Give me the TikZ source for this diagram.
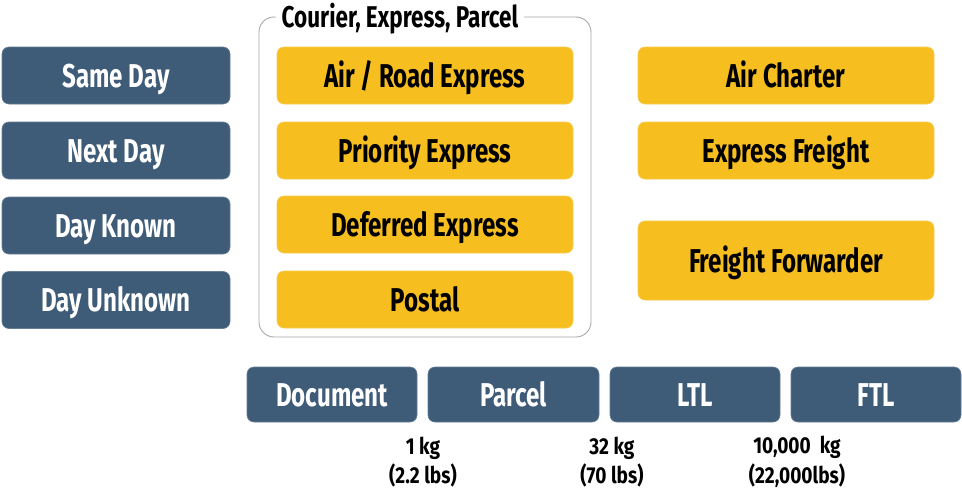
\documentclass[tikz,border=0pt]{standalone}
\usepackage{fontspec}
\newfontfamily\cond[FakeStretch=0.73]{Fira Sans}
\newfontfamily\condt[FakeStretch=0.75]{Fira Sans}
\newfontfamily\condn[FakeStretch=0.83]{Fira Sans}
\definecolor{navy}{HTML}{3E5B78}
\definecolor{gold}{HTML}{F6BF1F}
\definecolor{frame}{HTML}{A8A8A8}
\begin{document}
\begin{tikzpicture}[x=1pt,y=-1pt,
  base/.style={rectangle, rounded corners=7pt, draw=#1!80!white, line width=0.6pt, fill=#1,
    inner sep=0pt, text height=23pt, text depth=0pt,
    font=\cond\bfseries\fontsize{33}{36}\selectfont},
  bluebox/.style={base=navy, text=white},
  goldbox/.style={base=gold, text=black},
  note/.style={font=\condn\bfseries\fontsize{23}{29.5}\selectfont, text=black, align=center}]
\useasboundingbox[fill=white] (0,0) rectangle (962,490);
% group frame
\draw[frame, line width=0.9pt, rounded corners=15pt] (259,17) rectangle (591,337);
\node[fill=white, inner xsep=6pt, inner ysep=2pt, text height=21pt, text depth=0pt,
  font=\condt\bfseries\fontsize{30}{32}\selectfont] (grp) at (400,16.5) {Courier, Express, Parcel};
% left
\begin{scope}[every node/.append style={bluebox, minimum width=228pt, minimum height=57pt}]
\node (sd) at (116,75.5) {Same Day};
\node (nd) at (116,150.5) {Next Day};
\node (dk) at (116,225.5) {Day Known};
\node (du) at (116,300) {Day Unknown};
\end{scope}
% middle
\begin{scope}[every node/.append style={goldbox, minimum width=296pt, minimum height=57pt}]
\node (are) at (425,75.5) {Air / Road Express};
\node (pe) at (425,150.5) {Priority Express};
\node (de) at (425,224.5) {Deferred Express};
\node (po) at (425,299.5) {Postal};
% right
\node (ac) at (786,75.5) {Air Charter};
\node (ef) at (786,150.5) {Express Freight};
\node[minimum height=79pt] (ff) at (786,260.5) {Freight Forwarder};
\end{scope}
% bottom
\begin{scope}[every node/.append style={bluebox, minimum width=170pt, minimum height=55pt}]
\node (doc) at (332,394.5) {Document};
\node[minimum width=171pt] (par) at (513.5,394.5) {Parcel};
\node (ltl) at (695,394.5) {LTL};
\node (ftl) at (876,394.5) {FTL};
\end{scope}
% weights
\node[note] (w1) at (423,462) {1 kg\\(2.2 lbs)};
\node[note] (w2) at (612,462) {32 kg\\(70 lbs)};
\node[note] (w3) at (797,462) {10,000~ kg\\(22,000lbs)};
\end{tikzpicture}
\end{document}
